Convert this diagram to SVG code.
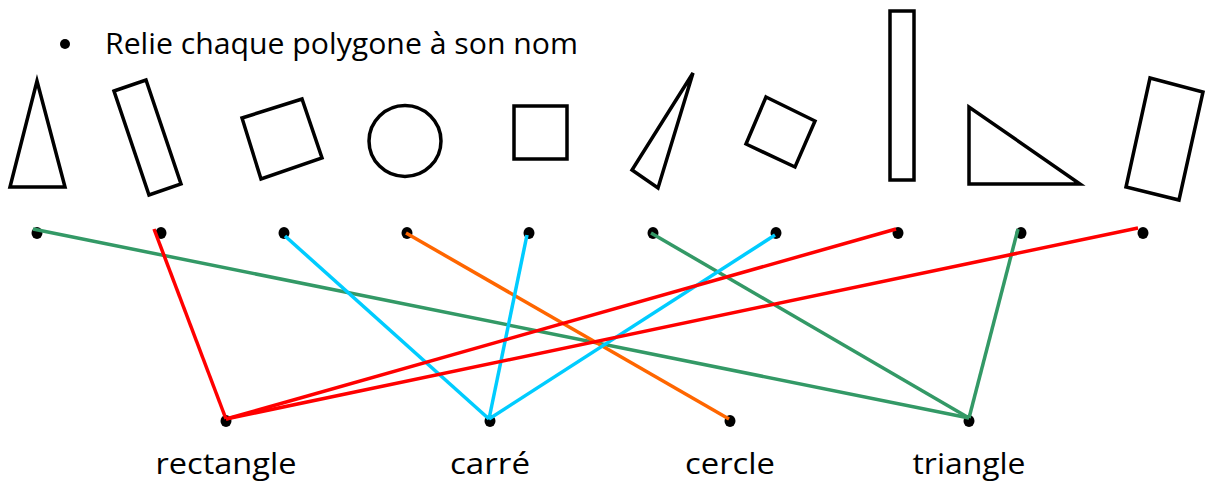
<svg xmlns="http://www.w3.org/2000/svg" width="1205" height="485" viewBox="0 0 1205 485">
<style>
.shape{fill:none;stroke:#000;stroke-width:3.5}
.dot{fill:#000}
.t{font-family:"Open Sans","Noto Sans",sans-serif;font-size:30px;fill:#000}
.lbl{font-family:"Open Sans","Noto Sans",sans-serif;font-size:30px;fill:#000;text-anchor:middle}
.c{fill:none;stroke-width:3.5;stroke-linecap:butt}
.g{stroke:#339966}.r{stroke:#ff0000}.b{stroke:#00ccff}.o{stroke:#ff6600}
</style>
<rect width="1205" height="485" fill="#fff"/>
<g id="title">
<circle cx="65" cy="44" r="5" class="dot"/>
<text x="105" y="54" class="t" textLength="473" lengthAdjust="spacingAndGlyphs">Relie chaque polygone à son nom</text>
</g>
<g id="shape1"><polygon class="shape" points="37,81 10,187 65,187"/><ellipse class="dot" cx="37" cy="233" rx="5.5" ry="6"/></g>
<g id="shape2"><polygon class="shape" points="114,91 146,80 181,184 149,195"/><ellipse class="dot" cx="161" cy="233" rx="5.5" ry="6"/></g>
<g id="shape3"><polygon class="shape" points="242,118 302,99 322,158 261,179"/><ellipse class="dot" cx="284" cy="233" rx="5.5" ry="6"/></g>
<g id="shape4"><ellipse class="shape" cx="405" cy="141" rx="36" ry="35.5"/><ellipse class="dot" cx="407" cy="233" rx="5.5" ry="6"/></g>
<g id="shape5"><rect class="shape" x="514" y="106" width="53" height="53"/><ellipse class="dot" cx="529" cy="233" rx="5.5" ry="6"/></g>
<g id="shape6"><polygon class="shape" points="693,73 632,170 658,188"/><ellipse class="dot" cx="653" cy="233" rx="5.5" ry="6"/></g>
<g id="shape7"><polygon class="shape" points="766,97 815,121 795,167 746,144"/><ellipse class="dot" cx="776" cy="233" rx="5.5" ry="6"/></g>
<g id="shape8"><rect class="shape" x="890" y="11" width="24" height="169"/><ellipse class="dot" cx="898" cy="233" rx="5.5" ry="6"/></g>
<g id="shape9"><polygon class="shape" points="969,107 969,184 1080,184"/><ellipse class="dot" cx="1021" cy="233" rx="5.5" ry="6"/></g>
<g id="shape10"><polygon class="shape" points="1150,78 1203,92 1179,200 1126,187"/><ellipse class="dot" cx="1143" cy="233" rx="5.5" ry="6"/></g>
<g id="rectangle"><ellipse class="dot" cx="226" cy="421" rx="5.5" ry="6"/><text x="226" y="474" class="lbl" textLength="141" lengthAdjust="spacingAndGlyphs">rectangle</text></g>
<g id="carre"><ellipse class="dot" cx="490" cy="421" rx="5.5" ry="6"/><text x="490" y="474" class="lbl" textLength="80" lengthAdjust="spacingAndGlyphs">carré</text></g>
<g id="cercle"><ellipse class="dot" cx="730" cy="421" rx="5.5" ry="6"/><text x="730" y="474" class="lbl" textLength="90" lengthAdjust="spacingAndGlyphs">cercle</text></g>
<g id="triangle"><ellipse class="dot" cx="969" cy="421" rx="5.5" ry="6"/><text x="969" y="474" class="lbl" textLength="113" lengthAdjust="spacingAndGlyphs">triangle</text></g>
<g id="connectors">
<line class="c g" x1="33" y1="229" x2="969" y2="418"/>
<line class="c r" x1="154" y1="229" x2="226" y2="419"/>
<line class="c b" x1="285" y1="236" x2="489" y2="419"/>
<line class="c o" x1="406" y1="233" x2="729" y2="419"/>
<line class="c b" x1="527" y1="235" x2="489" y2="419"/>
<line class="c g" x1="651" y1="233" x2="969" y2="418"/>
<line class="c b" x1="775" y1="235" x2="489" y2="419"/>
<line class="c r" x1="896" y1="229" x2="226" y2="419"/>
<line class="c g" x1="1018" y1="229" x2="969" y2="418"/>
<line class="c r" x1="1138" y1="228" x2="226" y2="419"/>
</g>
</svg>
